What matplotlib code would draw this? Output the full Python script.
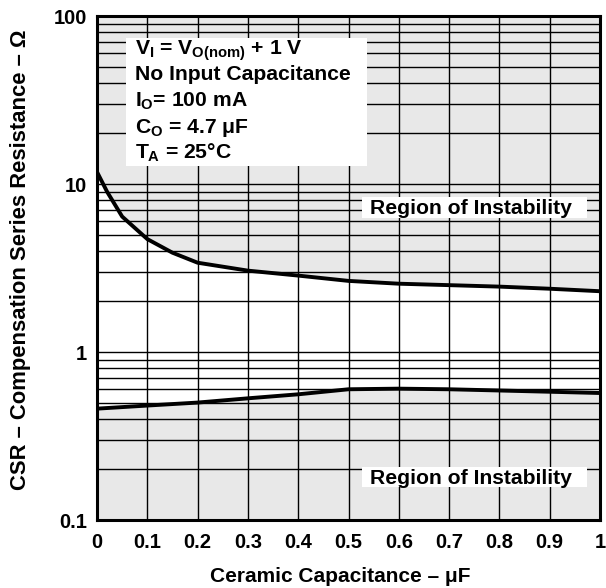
import matplotlib
matplotlib.use('Agg')
import matplotlib.pyplot as plt
from matplotlib.patches import Rectangle

plt.rcParams['font.family'] = ['Liberation Sans', 'DejaVu Sans']
plt.rcParams['font.weight'] = 'bold'
plt.rcParams['mathtext.fontset'] = 'custom'
plt.rcParams['mathtext.rm'] = 'Liberation Sans:bold'
plt.rcParams['mathtext.it'] = 'Liberation Sans:bold'
plt.rcParams['mathtext.bf'] = 'Liberation Sans:bold'

# Data
cap_upper = [0.0, 0.02, 0.05, 0.1, 0.15, 0.2, 0.3, 0.4, 0.5, 0.6, 0.7, 0.8, 0.9, 1.0]
csr_upper = [11.8, 9.0, 6.4, 4.7, 3.9, 3.4, 3.05, 2.85, 2.65, 2.55, 2.5, 2.45, 2.38, 2.3]
cap_lower = [0.0, 0.1, 0.2, 0.3, 0.4, 0.5, 0.6, 0.7, 0.8, 0.9, 1.0]
csr_lower = [0.46, 0.48, 0.50, 0.53, 0.56, 0.60, 0.605, 0.60, 0.59, 0.58, 0.57]

x_ticks = [0, 0.1, 0.2, 0.3, 0.4, 0.5, 0.6, 0.7, 0.8, 0.9, 1]
x_labels = ['0', '0.1', '0.2', '0.3', '0.4', '0.5', '0.6', '0.7', '0.8', '0.9', '1']
y_ticks = [0.1, 1, 10, 100]
y_labels = ['0.1', '1', '10', '100']

conditions = ['$V_I$ = $V_{O(nom)}$ + 1 V',
              'No Input Capacitance',
              '$I_O$= 100 mA',
              '$C_O$ = 4.7 \u03bcF',
              '$T_A$ = 25\u00b0C']

fig = plt.figure(figsize=(6.06, 5.88), dpi=100)
ax = fig.add_axes([97 / 606, 1 - 520 / 588, 503 / 606, 504 / 588])
ax.set_yscale('log')
ax.set_xlim(0, 1)
ax.set_ylim(0.1, 100)

gray = '#e8e8e8'
ax.fill_between(cap_upper, csr_upper, 100, color=gray, zorder=0, lw=0)
ax.fill_between(cap_lower, 0.1, csr_lower, color=gray, zorder=0, lw=0)

# grid
for xv in x_ticks[1:-1]:
    ax.axvline(xv, color='black', lw=1, zorder=1)
for dec in [0.1, 1, 10]:
    for m in range(1, 10):
        ax.axhline(dec * m, color='black', lw=1, zorder=1)

ax.plot(cap_upper, csr_upper, color='black', lw=2.8, zorder=3, solid_capstyle='butt')
ax.plot(cap_lower, csr_lower, color='black', lw=2.8, zorder=3, solid_capstyle='butt')

for s in ax.spines.values():
    s.set_linewidth(2.2)
    s.set_zorder(6)

ax.set_xticks(x_ticks)
ax.set_xticklabels(x_labels, fontsize=14.5, fontweight='bold')
ax.set_yticks(y_ticks)
ax.set_yticklabels(y_labels, fontsize=14.5, fontweight='bold')
ax.minorticks_off()
ax.tick_params(axis='x', length=0, pad=9)
ax.tick_params(axis='y', length=0, pad=7)

ax.set_xlabel('Ceramic Capacitance \u2013 \u03bcF', fontsize=15, fontweight='bold')
ax.xaxis.set_label_coords(0.483, -0.093)
ax.set_ylabel('CSR \u2013 Compensation Series Resistance \u2013 \u03a9', fontsize=15.8,
              fontweight='bold')
ax.yaxis.set_label_coords(-0.131, 0.516)

# conditions box
ax.add_patch(Rectangle((0.0577, 0.702), 0.479, 0.254, transform=ax.transAxes,
                       facecolor='white', edgecolor='none', zorder=4))
baselines = [55, 80, 107, 133, 159]
for line, b in zip(conditions, baselines):
    ax.text(0.0755, (520 - b) / 504, line, transform=ax.transAxes, fontsize=15.2,
            fontweight='bold', va='baseline', ha='left', zorder=5)

# region labels
for y0, h, yb in [(0.599, 0.0417, 0.607), (0.0655, 0.0397, 0.0714)]:
    ax.add_patch(Rectangle((0.527, y0), 0.447, h, transform=ax.transAxes,
                           facecolor='white', edgecolor='none', zorder=4))
    ax.text(0.7435, yb, 'Region of Instability', transform=ax.transAxes,
            fontsize=15.2, fontweight='bold', ha='center', va='baseline', zorder=5)

fig.savefig('out.png', dpi=100)
